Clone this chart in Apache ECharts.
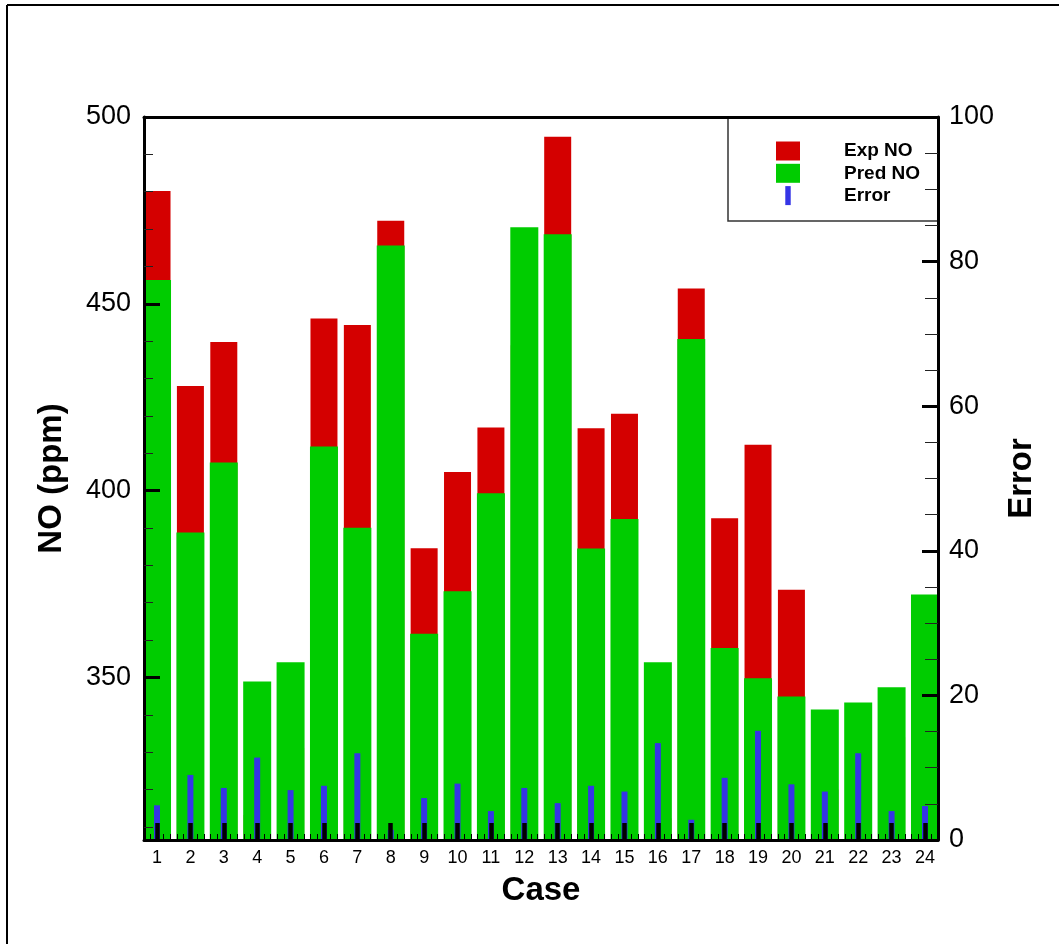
<!DOCTYPE html>
<html>
<head>
<meta charset="utf-8">
<script src="https://cdn.jsdelivr.net/npm/echarts@6/dist/echarts.min.js"></script>
<style>
html,body{margin:0;padding:0;background:#fff;}
#chart{width:1059px;height:944px;}
</style>
</head>
<body>
<div id="chart"></div>
<script>
// ---- data ----
var caseNumbers = [1,2,3,4,5,6,7,8,9,10,11,12,13,14,15,16,17,18,19,20,21,22,23,24];
var expNO  = [480.2,428.0,439.8,313.2,331.2,446.1,444.3,472.2,384.6,405.0,416.9,438.9,494.7,416.7,420.6,312.3,454.1,392.6,412.3,373.5,320.0,306.5,334.0,355.5];
var predNO = [456.4,388.8,407.5,348.9,354.1,411.8,390.1,465.6,361.7,373.1,399.3,470.5,468.6,384.5,392.4,354.1,440.6,357.9,349.8,344.9,341.4,343.3,347.4,372.2];
var errorPct = [4.8,9.0,7.2,11.4,6.9,7.5,12.0,1.4,5.8,7.8,4.0,7.2,5.1,7.5,6.7,13.4,2.8,8.6,15.1,7.7,6.7,12.0,4.0,4.7];
var noTickLabels = [350,400,450,500];
var errorTickLabels = [0,20,40,60,80,100];

// ---- axis decoration helpers ----
var X_MIN = 0.61, X_MAX = 24.39, NO_MIN = 306.5, NO_MAX = 500;
var xMinorTicks = [];
for (var i = 0; i <= 24; i++) {
  for (var j = 1; j <= 4; j++) {
    var v = +(i + j * 0.2).toFixed(2);
    if (v > X_MIN && v < X_MAX) xMinorTicks.push(v);
  }
}
var noMinorTicks = [];
for (var k = 310; k < 500; k += 10) { if (k % 50 !== 0) noMinorTicks.push(k); }

function pairs(xs, ys) { return xs.map(function (x, i) { return [x, ys[i]]; }); }

var FONT = "'Liberation Sans', Arial, Helvetica, sans-serif";
var RED = '#d40000', GREEN = '#00cc00', BLUE = '#3535e6';

var chart = echarts.init(document.getElementById('chart'), null, {renderer: 'canvas'});
chart.setOption({
  animation: false,
  backgroundColor: '#fff',
  grid: {left: 144, right: 121, top: 117, bottom: 104, containLabel: false},
  graphic: [
    {type: 'rect', z: 1, shape: {x: 728, y: 117, width: 210, height: 104}, style: {fill: '#fff', stroke: '#333', lineWidth: 1.5}},
    {type: 'line', z: 1, shape: {x1: 7, y1: 5, x2: 1059, y2: 5}, style: {stroke: '#000', lineWidth: 2}},
    {type: 'line', z: 1, shape: {x1: 7, y1: 5, x2: 7, y2: 944}, style: {stroke: '#000', lineWidth: 2}}
  ],
  legend: {
    orient: 'vertical', left: 776, top: 141.5, padding: 0,
    itemWidth: 24, itemHeight: 19, itemGap: 3.3,
    textStyle: {fontSize: 19, fontWeight: 'bold', color: '#000', fontFamily: FONT, padding: [0, 0, 0, 39]},
    data: [
      {name: 'Exp NO', icon: 'rect'},
      {name: 'Pred NO', icon: 'rect'},
      {name: 'Error', icon: 'path://M0,0h2v7h-2z'}
    ]
  },
  xAxis: [
    {
      type: 'value', position: 'bottom', min: X_MIN, max: X_MAX, z: 10,
      axisLine: {show: true, onZero: false, lineStyle: {color: '#000', width: 3}},
      axisTick: {show: true, inside: true, length: 17, lineStyle: {color: '#000', width: 4.5}, customValues: caseNumbers},
      axisLabel: {show: true, customValues: caseNumbers, fontSize: 18, color: '#000', margin: 9, fontFamily: FONT},
      splitLine: {show: false},
      name: 'Case', nameLocation: 'middle', nameGap: 34,
      nameTextStyle: {fontSize: 33, fontWeight: 'bold', color: '#000', fontFamily: FONT}
    },
    {
      type: 'value', position: 'bottom', min: X_MIN, max: X_MAX, z: 11,
      axisLine: {show: false, onZero: false},
      axisTick: {show: true, inside: true, length: 6, lineStyle: {color: '#000', width: 1}, customValues: xMinorTicks},
      axisLabel: {show: false},
      splitLine: {show: false}
    },
    {
      type: 'value', position: 'top', min: X_MIN, max: X_MAX, z: 10,
      axisLine: {show: true, onZero: false, lineStyle: {color: '#000', width: 3}},
      axisTick: {show: false}, axisLabel: {show: false}, splitLine: {show: false}
    }
  ],
  yAxis: [
    {
      type: 'value', position: 'left', min: NO_MIN, max: NO_MAX, z: 10,
      axisLine: {show: true, onZero: false, lineStyle: {color: '#000', width: 3}},
      axisTick: {show: true, inside: true, length: 16, lineStyle: {color: '#000', width: 3}, customValues: noTickLabels},
      axisLabel: {show: true, customValues: noTickLabels, fontSize: 27, color: '#000', margin: 13, fontFamily: FONT},
      splitLine: {show: false},
      name: 'NO (ppm)', nameLocation: 'middle', nameRotate: 90, nameGap: 76,
      nameTextStyle: {fontSize: 33, fontWeight: 'bold', color: '#000', fontFamily: FONT}
    },
    {
      type: 'value', position: 'right', min: 0, max: 100, interval: 20, z: 10,
      axisLine: {show: true, onZero: false, lineStyle: {color: '#000', width: 3}},
      axisTick: {show: true, inside: true, length: 16, lineStyle: {color: '#000', width: 3}},
      minorTick: {show: true, splitNumber: 4, length: 13, lineStyle: {color: '#222', width: 1}},
      axisLabel: {show: true, fontSize: 27, color: '#000', margin: 11, fontFamily: FONT,
        customValues: errorTickLabels},
      splitLine: {show: false}, minorSplitLine: {show: false},
      name: 'Error', nameLocation: 'middle', nameRotate: 90, nameGap: 54,
      nameTextStyle: {fontSize: 33, fontWeight: 'bold', color: '#000', fontFamily: FONT}
    },
    {
      type: 'value', position: 'left', min: NO_MIN, max: NO_MAX, z: 10,
      axisLine: {show: false, onZero: false},
      axisTick: {show: true, inside: true, length: 9, lineStyle: {color: '#222', width: 1}, customValues: noMinorTicks},
      axisLabel: {show: false},
      splitLine: {show: false}
    }
  ],
  series: [
    {name: 'Exp NO', type: 'bar', xAxisIndex: 2, yAxisIndex: 0, barWidth: 27,
     itemStyle: {color: RED}, data: pairs(caseNumbers, expNO)},
    {name: 'Pred NO', type: 'bar', xAxisIndex: 0, yAxisIndex: 0, barWidth: 28,
     itemStyle: {color: GREEN}, data: pairs(caseNumbers, predNO)},
    {name: 'Error', type: 'bar', xAxisIndex: 1, yAxisIndex: 1, barWidth: 6,
     itemStyle: {color: BLUE}, data: pairs(caseNumbers, errorPct)}
  ]
});
</script>
</body>
</html>
